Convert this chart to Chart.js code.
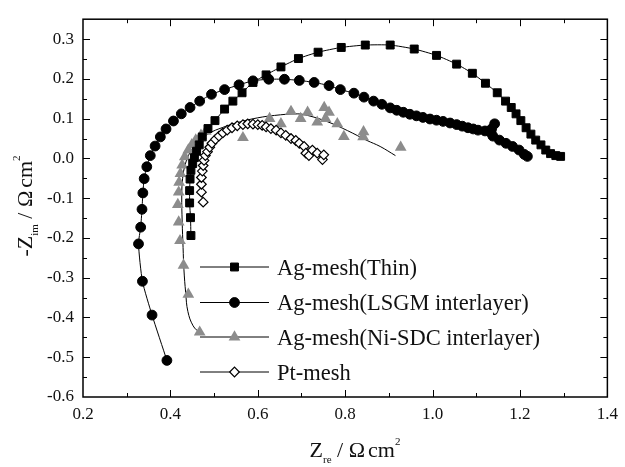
<!DOCTYPE html>
<html>
<head>
<meta charset="utf-8">
<script src="https://cdn.jsdelivr.net/npm/chart.js@4.4.0/dist/chart.umd.min.js"></script>
<style>
  body { margin: 0; background: #fff; }
  #wrap { width: 625px; height: 467px; }
</style>
</head>
<body>
<div id="wrap"><canvas id="nyquist" width="625" height="467"></canvas></div>
<script>
// --- datos: [Zre, -Zim] ---
const thinPts = [
  [0.447,-0.194],[0.446,-0.149],[0.444,-0.112],[0.444,-0.081],[0.445,-0.052],[0.447,-0.030],
  [0.451,-0.013],[0.455,0.002],[0.460,0.018],[0.466,0.034],[0.473,0.054],[0.486,0.075],
  [0.502,0.095],[0.524,0.124],[0.543,0.144],[0.564,0.165],[0.589,0.191],[0.619,0.210],
  [0.653,0.230],[0.693,0.251],[0.738,0.267],[0.791,0.279],[0.846,0.285],[0.903,0.285],
  [0.958,0.275],[1.009,0.259],[1.055,0.237],[1.091,0.214],[1.121,0.189],[1.148,0.165],
  [1.167,0.144],[1.180,0.128],[1.191,0.112],[1.202,0.095],[1.214,0.077],[1.225,0.061],
  [1.236,0.046],[1.248,0.034],[1.259,0.021],[1.270,0.012],[1.282,0.007],[1.293,0.005]
];
const lsgmPts = [
  [0.392,-0.508],[0.358,-0.394],[0.336,-0.309],[0.327,-0.215],[0.332,-0.173],[0.335,-0.128],
  [0.337,-0.087],[0.340,-0.051],[0.346,-0.021],[0.354,0.007],[0.365,0.031],[0.377,0.054],
  [0.390,0.074],[0.407,0.094],[0.425,0.112],[0.445,0.128],[0.467,0.144],[0.494,0.161],
  [0.524,0.173],[0.557,0.185],[0.589,0.195],[0.625,0.199],[0.661,0.199],[0.695,0.196],
  [0.729,0.191],[0.763,0.183],[0.789,0.173],[0.820,0.164],[0.843,0.154],[0.865,0.144],
  [0.884,0.136],[0.903,0.127],[0.918,0.121],[0.933,0.116],[0.948,0.111],[0.963,0.107],
  [0.978,0.103],[0.994,0.099],[1.009,0.096],[1.024,0.093],[1.040,0.089],[1.055,0.085],
  [1.068,0.081],[1.081,0.077],[1.093,0.074],[1.104,0.071],[1.120,0.069],[1.135,0.074],
  [1.142,0.087],[1.134,0.064],[1.138,0.056],[1.153,0.046],[1.168,0.038],[1.183,0.030],
  [1.198,0.021],[1.210,0.010],[1.217,0.005]
];
const nisdcPts = [
  [0.467,-0.437],[0.441,-0.342],[0.430,-0.269],[0.422,-0.207],[0.419,-0.160],[0.417,-0.116],
  [0.419,-0.085],[0.420,-0.060],[0.423,-0.038],[0.427,-0.017],[0.433,0.004],[0.441,0.021],
  [0.449,0.034],[0.458,0.046],[0.470,0.058],[0.481,0.068],[0.566,0.052],[0.627,0.100],
  [0.653,0.087],[0.676,0.118],[0.698,0.100],[0.714,0.116],[0.736,0.091],[0.752,0.128],
  [0.763,0.116],[0.755,0.100],[0.782,0.087],[0.797,0.055],[0.842,0.067],[0.841,0.054],
  [0.927,0.028]
];
const nisdcFit = [
  [0.468,-0.440],[0.452,-0.421],[0.440,-0.385],[0.435,-0.338],[0.431,-0.280],[0.429,-0.224],
  [0.427,-0.160],[0.426,-0.093],[0.428,-0.050],[0.434,-0.015],[0.445,0.015],[0.462,0.040],
  [0.487,0.062],[0.520,0.078],[0.560,0.092],[0.600,0.102],[0.638,0.108],[0.690,0.112],
  [0.714,0.108],[0.760,0.092],[0.805,0.070],[0.850,0.045],[0.880,0.030],[0.915,0.007]
];
const ptPts = [
  [0.475,-0.110],[0.471,-0.085],[0.471,-0.065],[0.471,-0.048],[0.473,-0.032],[0.475,-0.018],
  [0.477,-0.005],[0.480,0.007],[0.485,0.017],[0.490,0.028],[0.495,0.038],[0.503,0.048],
  [0.511,0.056],[0.520,0.064],[0.530,0.071],[0.541,0.077],[0.553,0.082],[0.566,0.085],
  [0.577,0.087],[0.589,0.086],[0.600,0.085],[0.610,0.083],[0.619,0.079],[0.630,0.075],
  [0.642,0.071],[0.653,0.064],[0.664,0.058],[0.676,0.050],[0.687,0.045],[0.695,0.038],
  [0.706,0.030],[0.710,0.013],[0.717,0.007],[0.725,0.021],[0.736,0.013],[0.748,-0.003],
  [0.751,0.009]
];
const seriesNames = ['Ag-mesh(Thin)', 'Ag-mesh(LSGM interlayer)', 'Ag-mesh(Ni-SDC interlayer)', 'Pt-mesh'];
const xTicks = [0.2, 0.4, 0.6, 0.8, 1.0, 1.2, 1.4];
const yTicks = [-0.6, -0.5, -0.4, -0.3, -0.2, -0.1, 0.0, 0.1, 0.2, 0.3];

const SERIF = "'Liberation Serif', 'Times New Roman', serif";
const GRAY = '#8c8c8c';
const toXY = pts => pts.map(p => ({ x: p[0], y: p[1] }));

// --- estilos de marcador (también usados por la leyenda) ---
const markers = [
  { pointStyle: 'rect', radius: 5.6, fill: '#000', stroke: '#000', borderWidth: 1 },
  { pointStyle: 'circle', radius: 4.9, fill: '#000', stroke: '#000', borderWidth: 1 },
  { pointStyle: 'triangle', radius: 6.8, fill: GRAY, stroke: GRAY, borderWidth: 0 },
  { pointStyle: 'rectRot', radius: 4.8, fill: '#fff', stroke: '#000', borderWidth: 1.2 }
];

function seriesDataset(i, pts, showLine, order) {
  const m = markers[i];
  return {
    label: seriesNames[i],
    data: toXY(pts),
    showLine: showLine,
    borderColor: '#000',
    borderWidth: 1,
    tension: 0.2,
    pointStyle: m.pointStyle,
    pointRadius: m.radius,
    pointBackgroundColor: m.fill,
    pointBorderColor: m.stroke,
    pointBorderWidth: m.borderWidth,
    order: order
  };
}

// texto con sub/superíndices
function drawRich(ctx, parts, cx, baseY) {
  let w = 0;
  parts.forEach(p => { ctx.font = p.s + 'px ' + SERIF; w += ctx.measureText(p.t).width + (p.gap || 0); });
  let x = cx - w / 2;
  parts.forEach(p => {
    ctx.font = p.s + 'px ' + SERIF;
    ctx.fillText(p.t, x, baseY + (p.dy || 0));
    x += ctx.measureText(p.t).width + (p.gap || 0);
  });
}

// --- marco, ticks hacia dentro, títulos y leyenda ---
const decorations = {
  id: 'decorations',
  afterDatasetsDraw(chart) {
    const { ctx, chartArea: a, scales: { x, y } } = chart;
    ctx.save();
    ctx.strokeStyle = '#000';
    ctx.lineWidth = 1;
    ctx.beginPath();
    for (let i = 3; i < 14; i++) {
      const px = Math.round(x.getPixelForValue(i / 10)) + 0.5;
      const len = i % 2 === 0 ? 7 : 4;
      ctx.moveTo(px, a.bottom); ctx.lineTo(px, a.bottom - len);
      ctx.moveTo(px, a.top); ctx.lineTo(px, a.top + len);
    }
    for (let i = -11; i < 7; i++) {
      const py = Math.round(y.getPixelForValue(i / 20)) + 0.5;
      const len = i % 2 === 0 ? 7 : 4;
      ctx.moveTo(a.left, py); ctx.lineTo(a.left + len, py);
      ctx.moveTo(a.right, py); ctx.lineTo(a.right - len, py);
    }
    ctx.stroke();
    ctx.lineWidth = 1.5;
    ctx.strokeRect(a.left, a.top, a.right - a.left, a.bottom - a.top);

    // leyenda
    const rows = [267, 302.5, 337, 372];
    ctx.textBaseline = 'alphabetic';
    ctx.textAlign = 'left';
    rows.forEach((ry, i) => {
      const m = markers[i];
      ctx.lineWidth = 1;
      ctx.strokeStyle = '#000';
      ctx.beginPath();
      ctx.moveTo(200, ry); ctx.lineTo(269, ry);
      ctx.stroke();
      ctx.fillStyle = m.fill;
      ctx.strokeStyle = m.stroke;
      ctx.lineWidth = m.borderWidth;
      Chart.helpers.drawPoint(ctx, { pointStyle: m.pointStyle, radius: m.radius, rotation: 0, borderWidth: m.borderWidth }, 234.5, ry);
      ctx.fillStyle = '#111';
      ctx.font = '22.5px ' + SERIF;
      ctx.fillText(seriesNames[i], 277, ry + 7.5);
    });

    // títulos de ejes
    ctx.fillStyle = '#111';
    drawRich(ctx, [
      { t: 'Z', s: 22 }, { t: 're', s: 11, dy: 6 }, { t: ' / ', s: 22 },
      { t: 'Ω', s: 22, gap: 3 }, { t: 'cm', s: 22 }, { t: '2', s: 11, dy: -12 }
    ], 355, 457);
    ctx.translate(32, 206);
    ctx.rotate(-Math.PI / 2);
    drawRich(ctx, [
      { t: '-Z', s: 22 }, { t: 'im', s: 11, dy: 6 }, { t: ' / ', s: 22 },
      { t: 'Ω', s: 22, gap: 3 }, { t: 'cm', s: 22 }, { t: '2', s: 11, dy: -12 }
    ], 0, 0);
    ctx.restore();
  }
};

const tickFont = { family: SERIF, size: 17 };

new Chart(document.getElementById('nyquist'), {
  type: 'scatter',
  data: {
    datasets: [
      seriesDataset(3, ptPts, true, 0),
      seriesDataset(0, thinPts, true, 1),
      seriesDataset(1, lsgmPts, true, 2),
      seriesDataset(2, nisdcPts, false, 3),
      {
        label: 'fit',
        data: toXY(nisdcFit),
        showLine: true,
        borderColor: '#000',
        borderWidth: 1,
        tension: 0.4,
        pointRadius: 0,
        order: 4
      }
    ]
  },
  options: {
    responsive: false,
    animation: false,
    layout: { padding: { top: 13, right: 14, left: 0, bottom: 0 } },
    plugins: { legend: { display: false }, tooltip: { enabled: false } },
    scales: {
      x: {
        type: 'linear', min: 0.2, max: 1.4,
        grid: { display: false, drawTicks: false },
        border: { display: false },
        afterBuildTicks: s => { s.ticks = xTicks.map(v => ({ value: v })); },
        afterFit: s => { s.height = 70; },
        ticks: { font: tickFont, color: '#111', padding: 7, maxRotation: 0, callback: v => v.toFixed(1) }
      },
      y: {
        type: 'linear', min: -0.6, max: 0.35,
        grid: { display: false, drawTicks: false },
        border: { display: false },
        afterBuildTicks: s => { s.ticks = yTicks.map(v => ({ value: v })); },
        afterFit: s => { s.width = 83; },
        ticks: { font: tickFont, color: '#111', padding: 9, callback: v => v.toFixed(1) }
      }
    }
  },
  plugins: [decorations]
});
</script>
</body>
</html>
